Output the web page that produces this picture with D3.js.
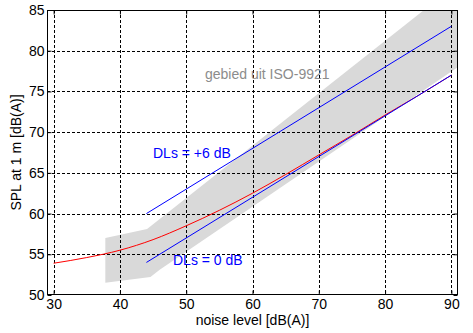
<!DOCTYPE html>
<html><head><meta charset="utf-8">
<script src="https://cdn.jsdelivr.net/npm/d3@7"></script>
<style>body{margin:0;background:#fff}svg{display:block}text{font-family:"Liberation Sans",Arial,sans-serif}</style>
</head><body>
<script>
// ---- data ----
const xTicks = [30,40,50,60,70,80,90];
const yTicks = [50,55,60,65,70,75,80,85];
const redX = [30,35,40,45,50,55,60,65,70,75,80,85,90];
const redY = [53.9,54.6,55.5,56.8,58.5,60.4,62.5,64.8,67.2,69.6,72.1,74.5,77.0];
const dl0 = [[44,54],[90,77]];
const dl6 = [[44,60],[90,83]];
const bandUpper = [[37.8,57.0],[44.1,58.1],[91,88.3]];
const bandLower = [[37.8,51.5],[44.6,52.2],[46,53.1],[91,78.0]];
const labels = {x:"noise level [dB(A)]", y:"SPL at 1 m [dB(A)]", band:"gebied uit ISO-9921", dl6:"DLs = +6 dB", dl0:"DLs = 0 dB"};

const W=473,H=333, L=47, T=10, R=458, B=295;
const svg=d3.select("body").append("svg").attr("width",W).attr("height",H);
const x=d3.scaleLinear().domain([29,91]).range([L,R]);
const y=d3.scaleLinear().domain([50,85]).range([B,T]);

svg.append("clipPath").attr("id","c").append("rect").attr("x",L).attr("y",T).attr("width",R-L).attr("height",B-T);
const g=svg.append("g").attr("clip-path","url(#c)");

// band
const poly=bandUpper.concat(bandLower.slice().reverse());
g.append("path").attr("d",d3.line().x(d=>x(d[0])).y(d=>y(d[1]))(poly)+"Z").attr("fill","#d9d9d9").attr("stroke","none");

// grid
g.selectAll(".gx").data(xTicks).join("line").attr("x1",d=>Math.round(x(d))+0.5).attr("x2",d=>Math.round(x(d))+0.5)
 .attr("y1",T).attr("y2",B).attr("stroke","#000").attr("stroke-dasharray","3,2").attr("stroke-width",1);
g.selectAll(".gy").data(yTicks).join("line").attr("y1",d=>Math.round(y(d))+0.5).attr("y2",d=>Math.round(y(d))+0.5)
 .attr("x1",L).attr("x2",R).attr("stroke","#000").attr("stroke-dasharray","3,2").attr("stroke-width",1);

const ln=d3.line().x(d=>x(d[0])).y(d=>y(d[1]));
g.append("path").attr("d",d3.line().x(d=>x(d[0])).y(d=>y(d[1])).curve(d3.curveMonotoneX)(redX.map((v,i)=>[v,redY[i]])))
 .attr("fill","none").attr("stroke","#ff0000").attr("stroke-width",1);
g.append("path").attr("d",ln(dl0)).attr("fill","none").attr("stroke","#0000ff").attr("stroke-width",1);
g.append("path").attr("d",ln(dl6)).attr("fill","none").attr("stroke","#0000ff").attr("stroke-width",1);

// axes box
svg.append("rect").attr("x",L+0.5).attr("y",T+0.5).attr("width",R-L-1).attr("height",B-T-1).attr("fill","none").attr("stroke","#000");
// axes with inward ticks
const ax=svg.append("g").attr("transform",`translate(0,${B-0.5})`).call(d3.axisBottom(x).tickValues(xTicks).tickSize(-4).tickPadding(5));
const axT=svg.append("g").attr("transform",`translate(0,${T+0.5})`).call(d3.axisTop(x).tickValues(xTicks).tickSize(-4).tickFormat(""));
const ay=svg.append("g").attr("transform",`translate(${L+0.5},0)`).call(d3.axisLeft(y).tickValues(yTicks).tickSize(-4).tickPadding(3));
const ayR=svg.append("g").attr("transform",`translate(${R-0.5},0)`).call(d3.axisRight(y).tickValues(yTicks).tickSize(-4).tickFormat(""));
[ax,axT,ay,ayR].forEach(a=>{a.select(".domain").remove();a.selectAll("text").attr("font-size",14).attr("font-family","Liberation Sans, Arial, sans-serif").attr("fill","#000");a.selectAll("line").attr("stroke","#000");});
ax.selectAll("text").attr("dy","0.71em");

svg.append("text").attr("x",(L+R)/2).attr("y",324.5).attr("text-anchor","middle").attr("font-size",14).text(labels.x);
svg.append("text").attr("transform",`translate(21,${(T+B)/2}) rotate(-90)`).attr("text-anchor","middle").attr("font-size",14).text(labels.y);

svg.append("text").attr("x",205).attr("y",79).attr("font-size",14).attr("fill","#8c8c8c").text(labels.band);
svg.append("text").attr("x",153).attr("y",158).attr("font-size",14).attr("fill","#0000ff").text(labels.dl6);
svg.append("text").attr("x",173).attr("y",264.5).attr("font-size",14).attr("fill","#0000ff").text(labels.dl0);
</script>
</body></html>
